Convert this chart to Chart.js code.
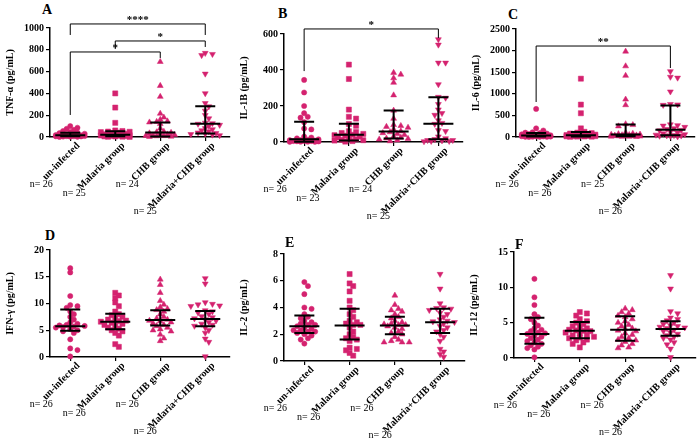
<!DOCTYPE html>
<html><head><meta charset="utf-8">
<script src="https://cdn.jsdelivr.net/npm/chart.js@4"></script>
<style>
body{margin:0;background:#fff;width:700px;height:445px;position:relative;overflow:hidden;font-family:"Liberation Serif",serif}
canvas{position:absolute}
.plab{position:absolute;font:bold 14px "Liberation Serif",serif;color:#000;line-height:14px}
</style></head><body>
<script>
// ---------- DATA ----------
const groups = ['un-infected', 'Malaria group', 'CHB group', 'Malaria+CHB group'];

// A: TNF-α
const tnfUninf = [100, 85, 75, 65, 55, 45, 40, 35, 30, 25, 20, 18, 16, 15, 14, 12, 10, 9, 8, 7, 6, 5, 4, 3, 2, 1];
const tnfMal = [400, 270, 130, 60, 55, 50, 48, 45, 40, 35, 30, 25, 22, 20, 18, 16, 14, 12, 10, 8, 6, 5, 3, 2, 1];
const tnfChb = [690, 470, 370, 215, 180, 160, 145, 140, 135, 120, 80, 50, 45, 40, 35, 30, 25, 20, 15, 12, 10, 8, 5, 2];
const tnfMalChb = [770, 760, 750, 580, 400, 310, 280, 240, 200, 170, 130, 125, 120, 110, 100, 80, 70, 60, 50, 40, 35, 30, 25, 20, 15];
const tnfMedian = [15, 20, 42, 122];
const tnfQ1 = [6, 6, 5, 32];
const tnfQ3 = [40, 52, 132, 283];
const tnfN = [26, 25, 24, 25];

// B: IL-1B
const il1bUninf = [345, 275, 200, 160, 140, 135, 110, 75, 70, 30, 25, 20, 15, 12, 10, 10, 8, 6, 5, 5, 4, 3, 2, 2, 1, 1];
const il1bMal = [430, 350, 180, 140, 130, 100, 90, 60, 55, 50, 45, 40, 38, 35, 30, 25, 20, 15, 12, 10, 8, 5, 2];
const il1bChb = [385, 375, 355, 330, 260, 175, 130, 95, 90, 85, 80, 70, 60, 55, 50, 45, 40, 30, 25, 20, 18, 15, 10, 5];
const il1bMalChb = [570, 540, 440, 440, 320, 250, 245, 210, 180, 160, 150, 120, 105, 100, 65, 60, 30, 20, 15, 10, 10, 8, 5, 5, 3];
const il1bMedian = [15, 40, 58, 102];
const il1bQ1 = [2, 8, 20, 15];
const il1bQ3 = [112, 102, 175, 248];
const il1bN = [26, 23, 24, 25];

// C: IL-6
const il6Uninf = [650, 200, 150, 110, 100, 90, 80, 70, 60, 50, 45, 40, 35, 30, 28, 25, 20, 18, 15, 12, 10, 8, 5, 4, 3, 2];
const il6Mal = [1350, 750, 550, 200, 120, 100, 90, 80, 70, 60, 55, 50, 45, 40, 38, 35, 30, 28, 25, 20, 18, 15, 12, 10, 8, 5];
const il6Chb = [1980, 1640, 1420, 870, 740, 300, 280, 250, 100, 80, 70, 60, 55, 50, 45, 40, 35, 30, 25, 20, 15, 12, 10, 8, 5];
const il6MalChb = [1520, 1390, 1370, 1050, 760, 750, 740, 290, 270, 260, 230, 200, 180, 160, 150, 120, 100, 80, 60, 50, 40, 35, 30, 25, 20, 10];
const il6Median = [35, 40, 55, 170];
const il6Q1 = [10, 12, 15, 40];
const il6Q3 = [95, 115, 290, 730];
const il6N = [26, 26, 25, 26];

// D: IFN-γ
const ifnUninf = [16.6, 15.8, 11.4, 9.7, 9.5, 9.2, 8.5, 8.0, 7.5, 7.0, 6.5, 6.2, 6.0, 5.9, 5.8, 5.7, 5.6, 5.5, 5.2, 5.0, 4.8, 4.5, 3.3, 1.6, 1.3, 0.1];
const ifnMal = [12.0, 11.5, 11.0, 10.2, 9.5, 8.5, 8.0, 7.8, 7.5, 7.2, 7.0, 6.8, 6.7, 6.6, 6.4, 6.2, 6.0, 5.8, 5.5, 5.3, 5.0, 4.8, 4.5, 4.0, 2.4, 1.9];
const ifnChb = [14.5, 13.5, 12.0, 10.5, 9.8, 9.3, 9.0, 8.8, 8.5, 8.0, 7.5, 7.2, 7.0, 6.8, 6.7, 6.5, 6.3, 6.0, 5.8, 5.5, 5.2, 5.0, 4.8, 4.2, 3.5, 3.0];
const ifnMalChb = [14.7, 13.7, 10.2, 9.9, 9.8, 9.6, 9.5, 8.7, 8.5, 8.3, 8.0, 7.6, 7.4, 7.2, 7.0, 6.8, 6.5, 6.2, 6.0, 5.8, 5.5, 5.0, 4.5, 3.4, 2.8, 0.1];
const ifnMedian = [5.75, 6.6, 6.9, 7.1];
const ifnQ1 = [4.9, 5.2, 5.9, 5.75];
const ifnQ3 = [8.9, 8.1, 8.75, 8.6];
const ifnN = [26, 26, 26, 26];

// E: IL-2
const il2Uninf = [5.9, 5.6, 5.0, 4.0, 3.9, 3.5, 3.3, 3.2, 3.0, 2.9, 2.8, 2.7, 2.7, 2.6, 2.5, 2.4, 2.3, 2.3, 2.2, 2.2, 2.1, 2.0, 1.9, 1.7, 1.6, 1.3];
const il2Mal = [6.5, 5.8, 5.6, 5.2, 4.5, 4.0, 3.8, 3.5, 3.3, 3.0, 2.9, 2.8, 2.7, 2.7, 2.5, 2.2, 2.0, 1.8, 1.7, 1.6, 1.5, 1.0, 0.9, 0.8, 0.6, 0.4];
const il2Chb = [4.9, 4.2, 3.9, 3.8, 3.7, 3.5, 3.3, 3.2, 3.0, 2.9, 2.8, 2.75, 2.7, 2.7, 2.6, 2.5, 2.4, 2.2, 2.1, 2.0, 1.8, 1.6, 1.5, 1.4, 1.4, 1.4];
const il2MalChb = [6.5, 5.4, 4.3, 4.0, 3.95, 3.9, 3.8, 3.6, 3.5, 3.3, 3.1, 3.0, 2.95, 2.9, 2.8, 2.6, 2.5, 2.3, 2.2, 2.0, 1.8, 1.5, 0.9, 0.7, 0.5, 0.3];
const il2Median = [2.6, 2.65, 2.65, 2.9];
const il2Q1 = [2.1, 1.6, 2.0, 2.1];
const il2Q3 = [3.4, 3.9, 3.3, 3.9];
const il2N = [26, 26, 26, 26];

// F: IL-12
const il12Uninf = [11.2, 8.6, 7.5, 6.2, 5.8, 5.5, 5.0, 4.6, 4.2, 4.0, 3.8, 3.6, 3.5, 3.4, 3.2, 3.0, 2.8, 2.6, 2.4, 2.2, 2.0, 1.8, 1.6, 1.4, 1.2, 0.1];
const il12Mal = [6.5, 6.3, 6.0, 5.5, 5.2, 5.0, 4.8, 4.5, 4.3, 4.2, 4.0, 3.9, 3.85, 3.8, 3.6, 3.5, 3.3, 3.2, 3.0, 2.9, 2.8, 2.6, 2.5, 2.2, 2.0, 1.5];
const il12Chb = [7.0, 6.8, 6.5, 6.3, 6.0, 5.8, 5.5, 5.2, 5.0, 4.7, 4.5, 4.2, 4.1, 3.9, 3.8, 3.5, 3.3, 3.0, 2.8, 2.6, 2.5, 2.3, 2.0, 1.8, 1.5, 1.4];
const il12MalChb = [11.7, 9.8, 6.6, 6.3, 5.7, 5.5, 5.3, 5.0, 4.8, 4.6, 4.5, 4.4, 4.3, 4.2, 4.0, 3.8, 3.6, 3.4, 3.2, 3.0, 2.8, 2.6, 2.2, 1.9, 1.3, 0.1];
const il12Median = [3.4, 3.85, 4.0, 4.1];
const il12Q1 = [2.0, 2.8, 2.45, 3.15];
const il12Q3 = [5.7, 5.1, 5.9, 5.2];
const il12N = [26, 26, 26, 26];

// significance brackets: [fromGroup, toGroup, lineValue, leftLegEnd, rightLegEnd, label]
const tnfSig = [[0, 3, 1037, 936, 936, '****'], [1, 3, 881, 807, 826, '*'], [0, 2, 780, 202, 725, '*']];
const il1bSig = [[0, 3, 628, 394, 578, '*']];
const il6Sig = [[0, 3, 2106, 810, 1597, '**']];

// ---------- LAYOUT ----------
const COLOR = '#d4226f';
const SERIF = '"Liberation Serif", "Times New Roman", serif';
const nDx = [-29, -41, -33, -60];
const nDy = [47, 56, 47, 74];

const panels = [
  {letter: 'A', lx: 42, ly: 3, title: 'TNF-α (pg/mL)', ymax: 1000, step: 200,
   series: [tnfUninf, tnfMal, tnfChb, tnfMalChb], med: tnfMedian, q1: tnfQ1, q3: tnfQ3, n: tnfN, sig: tnfSig,
   cx: 0, cy: 0, cw: 240, ch: 222, left: 50, top: 28, right: 230, bottom: 137},
  {letter: 'B', lx: 278, ly: 7, title: 'IL-1B (pg/mL)', ymax: 600, step: 200,
   series: [il1bUninf, il1bMal, il1bChb, il1bMalChb], med: il1bMedian, q1: il1bQ1, q3: il1bQ3, n: il1bN, sig: il1bSig,
   cx: 234, cy: 0, cw: 236, ch: 222, left: 284, top: 34, right: 463, bottom: 142},
  {letter: 'C', lx: 508, ly: 8, title: 'IL-6 (pg/mL)', ymax: 2500, step: 500,
   series: [il6Uninf, il6Mal, il6Chb, il6MalChb], med: il6Median, q1: il6Q1, q3: il6Q3, n: il6N, sig: il6Sig,
   cx: 466, cy: 0, cw: 234, ch: 222, left: 516, top: 29, right: 695, bottom: 137},
  {letter: 'D', lx: 45, ly: 229, title: 'IFN-γ (pg/mL)', ymax: 20, step: 5,
   series: [ifnUninf, ifnMal, ifnChb, ifnMalChb], med: ifnMedian, q1: ifnQ1, q3: ifnQ3, n: ifnN, sig: [],
   cx: 0, cy: 222, cw: 240, ch: 223, left: 50, top: 250, right: 230, bottom: 357},
  {letter: 'E', lx: 285, ly: 236, title: 'IL-2 (pg/mL)', ymax: 8, step: 2,
   series: [il2Uninf, il2Mal, il2Chb, il2MalChb], med: il2Median, q1: il2Q1, q3: il2Q3, n: il2N, sig: [],
   cx: 234, cy: 222, cw: 236, ch: 223, left: 284, top: 254, right: 465, bottom: 361},
  {letter: 'F', lx: 515, ly: 238, title: 'IL-12 (pg/mL)', ymax: 15, step: 5,
   series: [il12Uninf, il12Mal, il12Chb, il12MalChb], med: il12Median, q1: il12Q1, q3: il12Q3, n: il12N, sig: [],
   cx: 464, cy: 222, cw: 236, ch: 223, left: 514, top: 252, right: 698, bottom: 358}
];

const styles = [
  {pointStyle: 'circle', radius: 2.6, rotation: 0},
  {pointStyle: 'rect', radius: 3.6, rotation: 0},
  {pointStyle: 'triangle', radius: 3.4, rotation: 0},
  {pointStyle: 'triangle', radius: 3.4, rotation: 180}
];

const XMIN = -0.45, XMAX = 3.55;

// deterministic beeswarm placement (pixel space)
function swarm(vals, cat, pxPerUnit, pxPerCat) {
  const D = 4.2, STEP = 3.6;
  const cands = [0];
  for (let k = 1; k <= 4; k++) { cands.push(k * STEP, -k * STEP); }
  const placed = [], out = [];
  const order = vals.map((v, i) => i).sort((a, b) => vals[b] - vals[a]);
  for (const i of order) {
    const y = vals[i] * pxPerUnit;
    let best = 0, bestScore = -1;
    for (const c of cands) {
      let md = Infinity;
      for (const p of placed) { const d = Math.hypot(p.x - c, p.y - y); if (d < md) md = d; }
      if (md >= D) { best = c; bestScore = Infinity; break; }
      if (md > bestScore) { bestScore = md; best = c; }
    }
    placed.push({x: best, y: y});
    out.push({x: cat + best / pxPerCat, y: vals[i]});
  }
  return out;
}

function makePanel(p) {
  const lab = document.createElement('div');
  lab.className = 'plab';
  lab.style.left = p.lx + 'px'; lab.style.top = p.ly + 'px';
  lab.textContent = p.letter;
  document.body.appendChild(lab);

  const cv = document.createElement('canvas');
  cv.width = p.cw; cv.height = p.ch;
  cv.style.left = p.cx + 'px'; cv.style.top = p.cy + 'px';
  cv.style.width = p.cw + 'px'; cv.style.height = p.ch + 'px';
  document.body.appendChild(cv);

  const pxPerUnit = (p.bottom - p.top) / p.ymax;
  const pxPerCat = (p.right - p.left) / (XMAX - XMIN);

  const datasets = p.series.map((vals, i) => ({
    label: groups[i],
    data: swarm(vals, i, pxPerUnit, pxPerCat),
    backgroundColor: COLOR,
    borderColor: COLOR,
    borderWidth: 0.5,
    pointStyle: styles[i].pointStyle,
    pointRadius: styles[i].radius,
    pointRotation: styles[i].rotation,
    clip: false
  }));

  const decor = {
    id: 'decor' + p.letter,
    afterDatasetsDraw(chart) {
      const ctx = chart.ctx, xs = chart.scales.x, ys = chart.scales.y;
      ctx.save();
      ctx.strokeStyle = '#000';
      ctx.lineWidth = 2;
      for (let i = 0; i < 4; i++) {
        const x = xs.getPixelForValue(i);
        const ym = ys.getPixelForValue(p.med[i]);
        const y1 = ys.getPixelForValue(p.q1[i]);
        const y3 = ys.getPixelForValue(p.q3[i]);
        ctx.beginPath();
        ctx.moveTo(x - 15, ym); ctx.lineTo(x + 15, ym);
        ctx.moveTo(x, y1); ctx.lineTo(x, y3);
        ctx.moveTo(x - 10, y1); ctx.lineTo(x + 10, y1);
        ctx.moveTo(x - 10, y3); ctx.lineTo(x + 10, y3);
        ctx.stroke();
      }
      ctx.lineWidth = 1;
      ctx.fillStyle = '#000';
      for (const s of p.sig) {
        const x0 = xs.getPixelForValue(s[0]), x1 = xs.getPixelForValue(s[1]);
        const y = ys.getPixelForValue(s[2]);
        const yl = ys.getPixelForValue(s[3]), yr = ys.getPixelForValue(s[4]);
        ctx.beginPath();
        ctx.moveTo(x0, yl); ctx.lineTo(x0, y); ctx.lineTo(x1, y); ctx.lineTo(x1, yr);
        ctx.stroke();
        ctx.font = 'bold 11px ' + SERIF;
        ctx.textAlign = 'center';
        ctx.textBaseline = 'alphabetic';
        ctx.fillText(s[5], (x0 + x1) / 2, y - 1);
      }
      for (let i = 0; i < 4; i++) {
        const x = xs.getPixelForValue(i);
        ctx.font = '10px ' + SERIF;
        ctx.textAlign = 'center';
        ctx.textBaseline = 'middle';
        ctx.fillStyle = '#000';
        ctx.fillText('n= ' + p.n[i], x + nDx[i], chart.chartArea.bottom + nDy[i]);
      }
      ctx.restore();
    }
  };

  const tickFont = {family: SERIF, size: 10, weight: 'bold'};
  new Chart(cv, {
    type: 'scatter',
    data: {datasets: datasets},
    options: {
      responsive: false,
      animation: false,
      devicePixelRatio: 1,
      layout: {padding: {top: p.top - p.cy, right: p.cx + p.cw - p.right, left: 0, bottom: 0}},
      plugins: {legend: {display: false}, tooltip: {enabled: false}},
      scales: {
        x: {
          type: 'linear', min: XMIN, max: XMAX,
          afterBuildTicks: s => { s.ticks = [0, 1, 2, 3].map(v => ({value: v})); },
          afterFit: s => { s.height = p.cy + p.ch - p.bottom; },
          ticks: {callback: v => groups[v], minRotation: 45, maxRotation: 45, autoSkip: false,
                  font: tickFont, color: '#000', padding: -1, labelOffset: 8},
          grid: {display: true, drawOnChartArea: false, drawTicks: true, tickLength: 4, color: '#000', lineWidth: 1.2},
          border: {display: true, color: '#000', width: 1.5}
        },
        y: {
          min: 0, max: p.ymax,
          afterFit: s => { s.width = p.left - p.cx; },
          ticks: {stepSize: p.step, font: tickFont, color: '#000', padding: 2, callback: v => String(v)},
          grid: {display: true, drawOnChartArea: false, drawTicks: true, tickLength: 4, color: '#000', lineWidth: 1.2},
          border: {display: true, color: '#000', width: 1.5},
          title: {display: true, text: p.title, color: '#000', font: tickFont, padding: {top: 4, bottom: 2}}
        }
      }
    },
    plugins: [decor]
  });
}

panels.forEach(makePanel);
</script>
</body></html>
